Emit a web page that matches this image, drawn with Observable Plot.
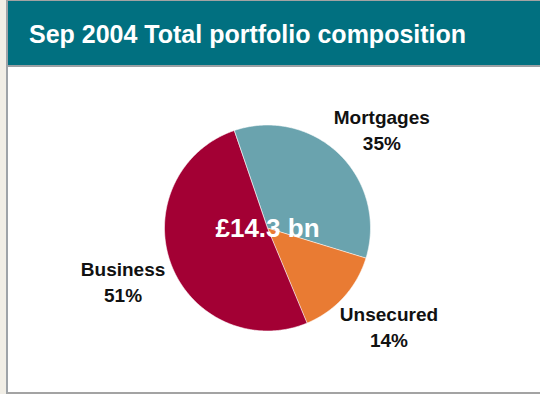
<!DOCTYPE html>
<html>
<head>
<meta charset="utf-8">
<script src="https://cdn.jsdelivr.net/npm/d3@7"></script>
<script src="https://cdn.jsdelivr.net/npm/@observablehq/plot@0.6"></script>
<style>
  html, body { margin: 0; padding: 0; }
  body { width: 540px; height: 394px; background: #f1eee6; position: relative; overflow: hidden;
         font-family: "Liberation Sans", Arial, sans-serif; }
  #frame { position: absolute; left: 6px; top: 0; width: 534px; height: 394px; box-sizing: border-box;
           border-left: 2px solid #9ea3a8; border-top: 1px solid #a3a3a3; border-bottom: 2px solid #a3a3a3;
           background: #ffffff; }
  #title { position: relative; height: 64px; background: #017080; border-bottom: 2px solid #9aa0a4; }
  #title span { position: absolute; left: 21px; top: 21px; line-height: 1; font-size: 25px; font-weight: bold;
                color: #ffffff; white-space: nowrap; }
  #chart svg { display: block; }
</style>
</head>
<body>
<div id="frame">
  <div id="title"><span>Sep 2004 Total portfolio composition</span></div>
  <div id="chart"></div>
</div>
<script>
// ---- data ----
const categories = ["Mortgages", "Unsecured", "Business"];
const shares = [35, 14, 51];
const colors = ["#6aa3ae", "#e97b33", "#a30034"];
const totalLabel = "£14.3 bn";
const startAngleDeg = -19;

// ---- layout ----
const W = 532, H = 325, cx = 259, cy = 160.5, r = 103;
const labelRadius = 1.5;
const labelNudgePx = [[7, 12], [7, -6], [0, -2]];

// ---- build tables ----
const rows = categories.map((c, i) => ({name: c, share: shares[i]}));
const arcs = d3.pie().sort(null).value(d => d.share)
  .startAngle(startAngleDeg * Math.PI / 180)
  .endAngle((startAngleDeg + 360) * Math.PI / 180)(rows);

const step = Math.PI / 360;
const poly = [];
for (const a of arcs) {
  poly.push({name: a.data.name, x: 0, y: 0});
  const n = Math.max(2, Math.ceil((a.endAngle - a.startAngle) / step));
  for (let k = 0; k <= n; k++) {
    const t = a.startAngle + (a.endAngle - a.startAngle) * k / n;
    poly.push({name: a.data.name, x: Math.sin(t), y: Math.cos(t)});
  }
}
const labels = arcs.map((a, i) => {
  const m = (a.startAngle + a.endAngle) / 2;
  return {
    text: `${a.data.name}\n${a.data.share}%`,
    x: labelRadius * Math.sin(m) + labelNudgePx[i][0] / r,
    y: labelRadius * Math.cos(m) - labelNudgePx[i][1] / r
  };
});

const chart = Plot.plot({
  width: W, height: H, margin: 0,
  style: {fontFamily: '"Liberation Sans", Arial, sans-serif', background: "transparent"},
  x: {domain: [-1, 1], range: [cx - r, cx + r], axis: null},
  y: {domain: [-1, 1], range: [cy + r, cy - r], axis: null},
  color: {domain: categories, range: colors},
  marks: [
    Plot.line(poly, {x: "x", y: "y", z: "name", fill: "name", stroke: "white", strokeWidth: 0.6, curve: "linear-closed"}),
    Plot.text([{x: 0, y: 0}], {x: "x", y: "y", text: () => totalLabel, fill: "white", fontSize: 26, fontWeight: "bold", dy: 1}),
    Plot.text(labels, {x: "x", y: "y", text: "text", fill: "#111", fontSize: 19, fontWeight: "bold", lineHeight: 1.35})
  ]
});
document.getElementById("chart").appendChild(chart);
</script>
</body>
</html>
